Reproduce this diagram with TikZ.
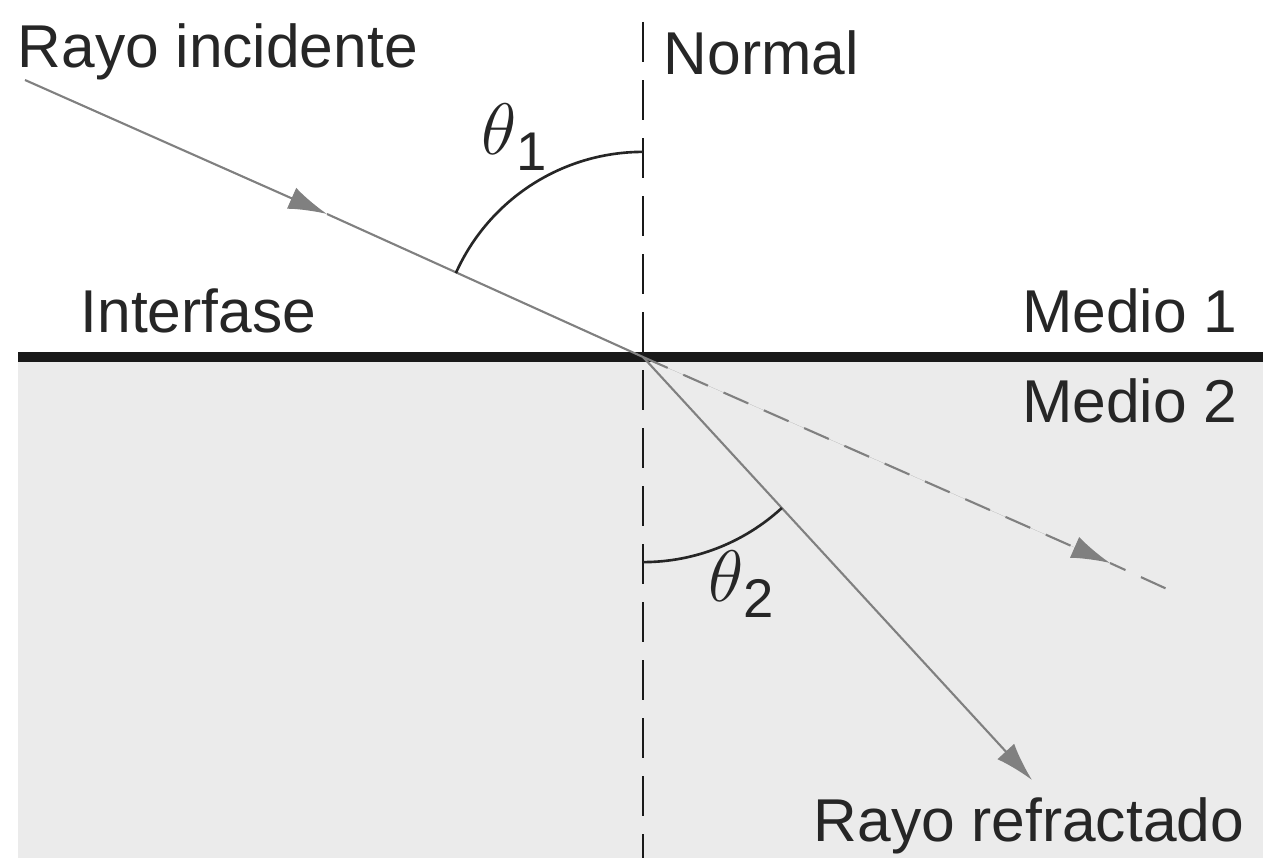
\documentclass[tikz,border=0pt]{standalone}
\usepackage{fontspec}
\setmainfont{Liberation Sans}
\usetikzlibrary{angles, arrows.meta, positioning}
\newcommand{\angsym}[1]{{\fontsize{22}{24}\selectfont$\theta$}\raisebox{-0.15cm}{\fontsize{15.5}{18}\selectfont #1}}

\begin{document}
\begin{tikzpicture}[>=Latex, x=0.01cm, y=0.01cm,
    ray/.style={draw=black!50, line width=0.6pt},
    tip/.style={-{Latex[length=11pt,width=6.5pt]}, draw=black!50, fill=black!50},
    lbl/.style={inner sep=0pt, text=black!85, font=\fontsize{17.2}{20}\selectfont}]
  \useasboundingbox (0,0) rectangle (1263,-858);
  % ---- Medium 2 and interface ----
  \fill[black!8] (18,-357) rectangle (1263,-858);
  \coordinate (O) at (643,-357);
  \coordinate (ifL) at (18,-357);
  \coordinate (ifR) at (1263,-357);
  \draw[black!90, line width=2.85pt] (ifL) -- (ifR);
  % ---- Normal ----
  \coordinate (Ntop) at (643,-22);
  \coordinate (Nbot) at (643,-858);
  \draw[black!90, line width=0.85pt, dash pattern=on 0.4cm off 0.18cm] (Ntop) -- (Nbot);
  % ---- Rays ----
  \coordinate (S) at (25,-80);
  \coordinate (Smid) at (327,-214);
  \coordinate (R) at (1032,-780);
  \coordinate (D) at (1167,-589);
  \coordinate (Dmid) at (1110,-563);
  \draw[ray, tip] (S) -- (Smid);
  \draw[ray] (Smid) -- (O);
  \draw[ray, tip] (O) -- (R);
  \draw[ray, tip, dash pattern=on 0.27cm off 0.17cm] (O) -- (Dmid);
  \draw[ray, dash pattern=on 0.27cm off 0.17cm, dash phase=0.1cm] (Dmid) -- (D);
  % ---- Angles ----
  \pic[draw=black!85, line width=0.75pt, angle radius=2.05cm] {angle = Ntop--O--S};
  \pic[draw=black!85, line width=0.75pt, angle radius=2.05cm] {angle = Nbot--O--R};
  % ---- Labels ----
  \node[lbl, anchor=base west] (incid) at (17,-68) {Rayo incidente};
  \node[lbl, anchor=base west] (normal) at (663,-75) {Normal};
  \node[lbl, anchor=base west] (th1) at (481,-155) {\angsym{1}};
  \node[lbl, anchor=base west] (interf) at (80,-333) {Interfase};
  \node[lbl, anchor=base east] (med1) at (1238,-333) {Medio 1};
  \node[lbl, anchor=base east] (med2) at (1238,-423) {Medio 2};
  \node[lbl, anchor=base west] (th2) at (708,-602) {\angsym{2}};
  \node[lbl, anchor=base west] (refr) at (813,-842) {Rayo refractado};
\end{tikzpicture}
\end{document}
